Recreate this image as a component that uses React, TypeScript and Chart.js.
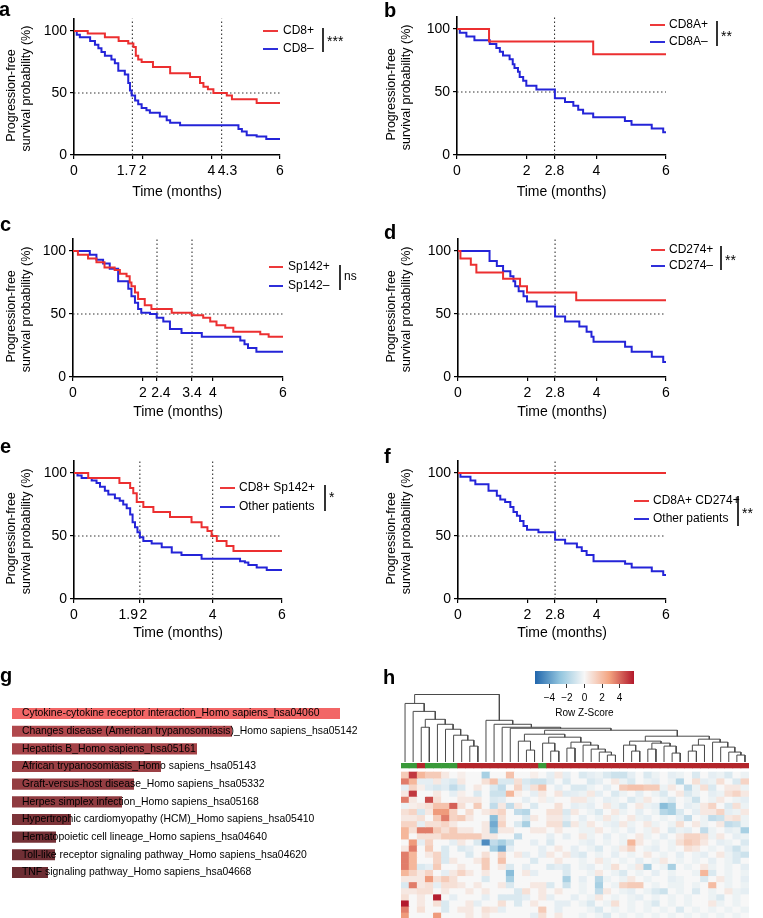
import React, { useEffect, useRef } from 'react';
import { Chart, registerables } from 'chart.js';

Chart.register(...registerables);
const FONT = '"Liberation Sans", Arial, Helvetica, sans-serif';
Chart.defaults.font.family = FONT;
Chart.defaults.color = '#000';

const RED = '#ec2f30';
const BLUE = '#2424d8';

// ---------------- Kaplan-Meier data (time in months, survival %) ----------------
const cd8PosTime = [0, 0.4, 0.9, 1.3, 1.58, 1.73, 1.8, 1.87, 1.97, 2.3, 2.8, 3.38, 3.67, 3.77, 3.9, 4.06, 4.45, 4.6, 5.32, 6];
const cd8PosSurv = [100, 98, 95, 92, 90, 87, 80, 77, 75, 71, 66, 63, 58, 55, 53, 50, 48, 45, 42, 42];
const cd8NegTime = [0, 0.08, 0.17, 0.47, 0.61, 0.71, 0.8, 0.9, 1.09, 1.19, 1.29, 1.48, 1.58, 1.63, 1.68, 1.78, 1.87, 1.97, 2.11, 2.21, 2.5, 2.7, 2.8, 3.09, 4.79, 4.89, 5.03, 5.32, 5.6, 6];
const cd8NegSurv = [100, 97, 95, 92, 89, 86, 83, 80, 77, 74, 68, 65, 58, 52, 48, 44, 41, 38, 36, 34, 31, 28, 26, 24, 21, 19, 16, 15, 13, 13];

const cd8aPosTime = [0, 0.92, 3.91, 6];
const cd8aPosSurv = [100, 90, 80, 80];
const cd8aNegTime = [0, 0.08, 0.27, 0.5, 0.94, 1.13, 1.23, 1.32, 1.51, 1.6, 1.65, 1.75, 1.8, 1.9, 1.99, 2.28, 2.81, 3.1, 3.34, 3.48, 3.62, 3.91, 4.82, 5.01, 5.59, 5.92, 6];
const cd8aNegSurv = [100, 97, 94, 91, 88, 85, 82, 79, 76, 72, 69, 66, 62, 59, 55, 52, 45, 42, 39, 36, 33, 30, 27, 24, 21, 18, 18];

const sp142PosTime = [0, 0.14, 0.43, 0.67, 0.9, 1.19, 1.34, 1.53, 1.62, 1.67, 1.77, 1.86, 2.05, 2.24, 2.82, 3.39, 3.72, 3.92, 4.1, 4.35, 4.58, 5.35, 5.59, 6];
const sp142PosSurv = [100, 97, 94, 91, 87, 85, 82, 80, 75, 72, 67, 62, 57, 54, 51, 49, 47, 44, 41, 39, 36, 34, 32, 32];
const sp142NegTime = [0, 0.48, 0.67, 0.86, 1.05, 1.29, 1.58, 1.67, 1.77, 1.86, 1.95, 2.2, 2.39, 2.58, 2.77, 3.1, 3.68, 4.78, 4.9, 5.0, 5.24, 6];
const sp142NegSurv = [100, 97, 93, 90, 86, 76, 70, 64, 59, 54, 51, 50, 47, 44, 38, 35, 32, 29, 26, 23, 20, 20];

const cd274PosTime = [0, 0.07, 0.37, 0.53, 1.3, 1.79, 1.99, 3.41, 6];
const cd274PosSurv = [100, 94, 89, 83, 78, 72, 67, 61, 61];
const cd274NegTime = [0, 0.91, 1.12, 1.3, 1.51, 1.6, 1.65, 1.75, 1.89, 1.99, 2.27, 2.8, 3.09, 3.5, 3.71, 3.85, 3.91, 4.82, 5.01, 5.59, 5.92, 6];
const cd274NegSurv = [100, 92, 88, 84, 80, 76, 72, 68, 64, 60, 56, 48, 44, 40, 36, 32, 28, 24, 20, 16, 12, 12];

const cd8Sp142Time = [0, 0.41, 1.31, 1.62, 1.71, 1.81, 2.0, 2.29, 2.77, 3.39, 3.68, 3.85, 3.97, 4.12, 4.4, 4.6, 6];
const cd8Sp142Surv = [100, 96, 92, 88, 84, 77, 73, 69, 65, 61, 57, 54, 50, 46, 42, 38, 38];
const otherETime = [0, 0.1, 0.22, 0.51, 0.65, 0.75, 0.89, 0.99, 1.18, 1.32, 1.42, 1.52, 1.62, 1.69, 1.76, 1.83, 1.9, 2.0, 2.24, 2.53, 2.82, 3.1, 3.68, 4.79, 4.93, 5.03, 5.27, 5.56, 6];
const otherESurv = [100, 98, 96, 94, 92, 89, 86, 83, 80, 78, 75, 72, 67, 61, 57, 53, 49, 46, 44, 41, 37, 35, 32, 30, 29, 27, 25, 23, 23];

const cd8aCd274Time = [0, 6];
const cd8aCd274Surv = [100, 100];
const otherFTime = [0, 0.07, 0.36, 0.5, 0.88, 1.12, 1.22, 1.36, 1.51, 1.6, 1.7, 1.79, 1.89, 1.99, 2.32, 2.8, 3.09, 3.43, 3.57, 3.71, 3.91, 4.82, 5.01, 5.59, 5.92, 6];
const otherFSurv = [100, 97, 94, 91, 86, 82, 79, 77, 73, 69, 66, 62, 58, 55, 53, 47, 44, 41, 38, 35, 30, 28, 25, 22, 19, 19];

const aTicks = [0, 1.7, 2, 4, 4.3, 6];
const bTicks = [0, 2, 2.8, 4, 6];
const cTicks = [0, 2, 2.4, 3.4, 4, 6];
const dTicks = [0, 2, 2.8, 4, 6];
const eTicks = [0, 1.9, 2, 4, 6];
const fTicks = [0, 2, 2.8, 4, 6];
const aMedians = [1.7, 4.3];
const bMedians = [2.8];
const cMedians = [2.4, 3.4];
const dMedians = [2.8];
const eMedians = [1.9, 4];
const fMedians = [2.8];
const yTicksKM = [0, 50, 100];

// ---------------- KEGG pathway bar data ----------------
const pathwayNames = [
  'Cytokine-cytokine receptor interaction_Homo sapiens_hsa04060',
  'Changes disease (American trypanosomiasis)_Homo sapiens_hsa05142',
  'Hepatitis B_Homo sapiens_hsa05161',
  'African trypanosomiasis_Homo sapiens_hsa05143',
  'Graft-versus-host disease_Homo sapiens_hsa05332',
  'Herpes simplex infection_Homo sapiens_hsa05168',
  'Hypertrophic cardiomyopathy (HCM)_Homo sapiens_hsa05410',
  'Hematopoietic cell lineage_Homo sapiens_hsa04640',
  'Toll-like receptor signaling pathway_Homo sapiens_hsa04620',
  'TNF signaling pathway_Homo sapiens_hsa04668',
];
const pathwayScores = [32.8, 22.0, 18.5, 14.9, 12.2, 11.0, 5.9, 4.4, 4.3, 3.6];
const pathwayColors = ['#f26666', '#b0484d', '#a54348', '#9c4045', '#943d42', '#8f3b40', '#7d3439', '#743036', '#702f35', '#6c2d33'];

// ---------------- Heatmap data ----------------
const sampleIds = Array.from({ length: 43 }, (_, i) => 'S' + (i + 1));
const sampleGroup = [1, 1, 0, 1, 1, 1, 1, 0, 0, 0, 0, 0, 0, 0, 0, 0, 0, 1, 0, 0, 0, 0, 0, 0, 0, 0, 0, 0, 0, 0, 0, 0, 0, 0, 0, 0, 0, 0, 0, 0, 0, 0, 0];
const groupColors = ['#b3262b', '#3a9a3a'];
const keyTicks = [-4, -2, 0, 2, 4];
const keyRange = [-5.65, 5.65];

const leftClade = [59, 0, [51, 1, [43, [35, 2, 3], [38, 4, [33, 5, [27, 6, [22, 7, [16, 8, 9]]]]]]]];
const cladeM = [28, [21, 14, [12, 15, 16]], [25, [19, 17, [11, 18, 19]], [20, [14, 20, 21], [17, 22, [13, 23, [10, 24, [7, 25, 26]]]]]]];
const cladeN = [26, [21, [17, 27, [11, 28, 29]], [19, [13, 30, 31], [16, 32, [9, 33, 34]]]], [23, [17, [11, 35, 36], 37], [20, 38, [15, 39, [10, 40, [7, 41, 42]]]]]];
const rightClade = [42, 10, [38, 11, [35, 12, [34, 13, [32, cladeM, cladeN]]]]];
const rootHeight = 68;

const heatmapRows = [
  [1.5, 5.0, 2.2, 1.5, 1.5, 0.5, 0, 0.3, 0, 0, -2.2, 0, 0, 1.8, 0, 0, 0.3, 0, -0.5, 0.5, -0.5, 0, -0.8, -0.5, -0.3, -0.8, -1.2, -1.2, -0.5, 0, -0.8, -0.3, 0, -0.5, -0.3, 0, -0.8, 0, -0.5, -0.3, -0.8, 0, -0.3],
  [3.6, 2.2, -0.5, -0.5, 0.5, -0.5, -0.8, 0.5, 0, 0, 0.8, 1.8, -0.8, -0.8, 0.8, -0.8, -1.2, -1.2, -0.6, 0, -0.8, 0, 0, -0.8, -0.5, 0, 0.5, -0.3, -0.8, 0, -0.3, -0.5, 0, -0.3, -1.8, 0, 0.8, -0.5, -0.3, 0.8, 0, -0.8, 1.2],
  [-0.5, 1.2, 0.3, -0.6, -0.9, -0.6, -1.5, -0.8, 0, 0.5, 0, -0.8, -1.5, 0, 1.2, -0.5, 0.8, 1.8, 0, -0.5, 0, -0.8, -0.8, -0.3, 0, -0.5, 0, 1.5, 1.8, 1.8, 1.5, 1.5, -0.3, 0.5, 0, -1.5, -0.3, 0.8, -0.8, 0, 0.5, 0.5, -0.3],
  [0.5, 5.0, 0, 0, 0.5, 0, -0.5, 0.3, 0, -0.8, 0, -1.2, -1.2, 2.2, 0.3, 0, -0.5, 0.5, 0, 0.6, -0.6, -0.5, -0.3, 0.5, -0.5, 0, -0.8, -0.3, 0, -0.5, 0, -0.3, -0.8, 0, 0.5, -0.8, -0.3, 0, -0.5, -0.3, 0.8, 1.2, 0.5],
  [3.6, 0.5, 0, 4.6, 0.8, 0, 0, 0.5, 0.5, 0.5, 0, -0.8, -0.6, 0, 0, -0.5, 0, 0.3, -0.3, 0, 0, 0.5, 0.5, -0.3, 0, -0.5, -0.3, 0, -0.8, -0.3, 0.5, 0, -0.3, -0.8, 0, -0.3, -1.2, 0, -0.3, 0.5, 0, -0.3, -0.5],
  [-0.3, 0.3, 0.5, 0.8, 1.8, 1.8, 4.2, 0.8, 0, 1.5, 0, -1.5, 0.5, -1.5, 0.5, 0, -0.8, 0, 0, 0.8, 0, -0.5, -0.3, -0.5, 0, 0.5, -0.3, -0.8, 0, 0.5, -0.3, -0.5, -3.0, -2.2, 0, -0.5, -0.3, 0.5, 1.2, 0, -0.8, 0.8, -0.3],
  [0.8, 1.2, -0.9, 0.5, 3.0, 3.0, 1.2, 0, 0.9, 0, 0.5, 0.8, 1.2, 0, -1.5, -1.8, 0, 0, 0.8, 0.8, -0.8, 0.5, 0, -0.3, -0.8, 0, 0.5, -0.3, 0, -0.5, 0, -0.3, -1.8, -2.2, -0.8, 0, -0.5, 0.5, 0.5, 1.2, -0.5, -0.3, 0.5],
  [0.5, 0.5, 0.8, 0, 1.5, 3.6, 1.2, 1.5, 0.5, 0, 0, -3.0, 0.8, 0, 0, -0.8, 0.5, 0, 0.5, 0.5, -0.5, 0, -0.5, 0, -0.3, 0.5, -0.3, 0, 0.5, -0.3, -0.5, 0, -0.3, 0, -0.5, -1.5, 0, -0.3, -1.5, -1.2, 0.5, 0.8, -0.3],
  [1.2, 1.2, -0.5, 0.8, 0.8, 1.2, 0.5, 0, 0, 0, 0.5, -3.6, 1.2, 0, -0.8, -2.2, 0, 0, 0.8, 0.8, -1.2, 0.5, -0.3, 0.5, 0, -0.3, -0.5, 0.5, -0.3, 0, 0.5, -0.3, 0, -0.3, 0.8, 0, 0.5, -0.3, 0, 0.5, -1.5, -1.2, -0.3],
  [2.2, 0.8, 3.6, 3.6, 1.5, 0.8, 1.5, 0.5, 0.5, 0, 0.5, -3.0, 0.5, 0.5, 0, 0, 0.5, 0.5, 0, 0.5, 0, 0, -0.3, -0.3, 0.5, 0, -0.3, 0, -0.5, 0, -0.3, 0.5, 0, -0.8, -0.3, -0.5, 0, -1.5, -0.3, 0, -0.5, -0.3, -2.2],
  [2.2, 0, 0.8, 0.8, 0.8, 1.5, 1.5, 1.5, 1.5, 1.5, 0.5, 0.5, 0, 0, -1.5, 0, 0, 0, -0.5, 0, -0.5, 0, 0.5, -0.3, 0, -0.5, 0, -0.3, 0, 0.5, -0.3, 0, -0.5, 0, 0.5, 1.2, 1.2, 0.8, -0.3, 0.5, 0, -0.5, -0.3],
  [0, 3.0, -0.5, 1.2, 0, 0, -0.5, 0.5, 0, -0.8, -4.5, -1.5, -2.2, -1.2, 0, 0, -0.5, 0, -0.8, 0, 0, 0, -0.3, -0.5, 0, -0.3, 0, -0.3, 2.2, 0.5, 0, -0.3, 0, -0.3, 0.8, 1.5, 1.2, 0.5, 0, -0.5, -0.3, 0, -0.8],
  [0.5, 3.6, 0, 1.5, 0, -0.8, 0, -0.8, -0.5, 0, 0, -2.2, -3.6, -0.5, 0, 0, 0, -0.5, 0, 0.5, 0, -0.5, 0, -0.3, -0.8, 0, -0.3, 0.5, 1.2, 0, -0.3, -0.5, 0, -0.3, 0, 0.8, 0.5, 0, -0.3, 0, -0.5, -1.2, -0.3],
  [3.6, 2.2, 0, 0.5, 1.2, -0.8, 0, 0, -0.8, 0, 0.8, 0, 1.2, 0, 0.5, -0.5, 0, -0.5, 0.5, 0, 0.5, -0.5, -0.8, 0, -0.3, 0, -0.5, 0, -0.3, 0, 0.5, 0, -0.3, 0, -0.5, 0, -0.3, -0.5, 0, 0.5, -0.3, -0.8, -1.2],
  [3.6, 2.2, 0, 0, 1.2, -0.8, 0.5, 0, 0, 0.5, 1.5, 0, 1.8, 0, 0, 0, -0.8, 0, 0, 0.5, 0, 0, -0.3, 0, 0.5, -0.3, 0, -0.3, 0, -0.5, 0, -0.3, 0.5, 0, -0.3, 0, -0.3, 0, -0.5, 0, -0.3, -0.8, 0],
  [3.6, 2.2, -0.8, -0.5, 1.5, 0, 0, 0.5, 0, 0, 1.5, 0, 0.5, -0.8, 0, -0.5, 0, 0, -0.8, -0.5, -0.8, 0, -0.3, -0.5, 0, -0.3, 0.8, 0, -0.3, 0.5, -2.2, 0, -0.3, -2.2, 0, -0.3, 0, 0.5, -0.3, 0, -0.3, 0, -0.5],
  [2.2, 1.2, 0.5, 1.2, 0, -0.5, 0.5, 1.2, 0.5, 0, 0.5, 0, 0, -3.0, 0, 0.5, -0.5, 0, 0, 0, -0.8, 0, 0, -0.3, 0.5, 0, -0.3, -0.8, 0, -0.3, 0, -0.5, 0, -0.3, 0, 0, -0.3, 2.2, -0.8, 0, -0.3, 0, -0.3],
  [0.5, 0.5, 0.5, 3.0, 0.8, 1.5, 0.8, 0, 0, 0, -0.8, 0, 0, -2.2, 0, 0, 0, 0, 0, 0, -2.2, 0, -0.5, 0, -1.8, -0.3, 0, -0.3, 0.5, 0, -0.3, 0, 0, -0.5, -0.3, 0, 0, -0.8, 0, 0.5, -0.3, 0, -0.5],
  [-0.8, 3.6, 0.5, 0.8, -0.5, 0.8, 0.8, 0.5, 0, 0.5, 0, 0, 0.5, -0.8, 0, 0, 0.5, 0.5, -0.8, 0, -1.2, 0, -0.3, 0, -2.2, 0, -0.3, 1.2, 1.5, 1.5, 0, -0.3, 0, -0.3, -0.3, 0, -0.3, 0, 2.0, 0, -0.3, 0, -0.3],
  [0.5, 0.5, 0.8, 0.8, 0, 0.5, 0, 0, 0.5, 0, 0.5, 0, 0, 0, -0.8, 0.8, 0, 0.5, 0, 0.5, 0, 0, -0.3, 0, -1.5, 0.5, 0, -0.3, -0.5, 0, -0.3, -0.8, -1.2, 0, -0.3, 0, -0.8, 0, -0.3, 0, 0.5, -0.3, -0.5],
  [0.8, 0, 0.5, 0, 5.5, 0, -0.5, 0, 0, 0, -0.5, 0, -0.8, -0.8, -0.8, -0.5, 0, 0.5, -0.5, 0, 0, -0.5, 0, -0.3, 0.5, 0, -0.3, 0, -0.3, -0.5, 0, -0.3, 0, -0.3, 0, -0.3, 0, 0, -0.3, -0.8, 0, -0.3, 0],
  [5.6, 0, 0.5, 0, 0.8, -0.8, 0, 0, 0.5, -0.5, 0, 0, 0.8, 0, -0.8, 0, 0.5, 0, 0, -0.5, -0.5, 0, -0.3, -0.8, 0, -0.3, 0.8, 0, -0.3, 0, -0.3, -0.8, 0, -0.3, 0, -0.3, 0, 0, 0.5, -0.3, 0, -0.3, 0],
  [3.6, 0, 0.8, 0, 0, -0.8, 0, 0.5, 0.5, 0, 0.8, 0.5, -0.5, 0, 0, 0, 0, 1.5, 0, -0.5, 0, 0, 0, -0.3, -0.8, 0, -0.3, 0, -0.3, 0, -0.3, 0, -0.3, 0, -0.8, 0, -0.3, 0, -0.3, 0, -0.3, 0, -0.3],
  [3.0, 0, 0, 0, 3.0, 0, 0, 0, 0.5, 0, 0.5, 0, 0, 0, 0, 0, -0.5, 0.8, 0, 0.5, 0, 0, -0.3, 0, -0.3, -0.8, 0, -0.3, 0, -0.3, 0, -0.3, 0, -0.3, 0, -0.3, 0, -0.3, 0, -0.3, 0, -0.3, 0],
];

// ---------------- helpers ----------------
const zStops: [number, number[]][] = [
  [-5.65, [33, 102, 172]],
  [-2.8, [146, 197, 222]],
  [0, [247, 247, 247]],
  [2.8, [244, 165, 130]],
  [5.65, [178, 24, 43]],
];
function zColor(v: number) {
  const z = Math.max(zStops[0][0], Math.min(zStops[zStops.length - 1][0], v));
  for (let i = 0; i < zStops.length - 1; i++) {
    const [a, ca] = zStops[i];
    const [b, cb] = zStops[i + 1];
    if (z >= a && z <= b) {
      const t = (z - a) / (b - a);
      const c = ca.map((x, k) => Math.round(x + (cb[k] - x) * t));
      return `rgb(${c[0]},${c[1]},${c[2]})`;
    }
  }
  return 'rgb(247,247,247)';
}

function stepPoints(t: number[], s: number[]) {
  return t.map((x, i) => ({ x, y: s[i] }));
}

const kmOverlay = {
  id: 'kmOverlay',
  afterDraw(chart: any, _a: any, o: any) {
    if (!o || !o.items) return;
    const ctx = chart.ctx;
    ctx.save();
    o.items.forEach((it: any, i: number) => {
      const y = o.rowY[i];
      ctx.strokeStyle = it.color;
      ctx.lineWidth = 1.9;
      ctx.beginPath();
      ctx.moveTo(o.lineX, y);
      ctx.lineTo(o.lineX + o.lineLen, y);
      ctx.stroke();
      ctx.fillStyle = '#000';
      ctx.font = `12px ${FONT}`;
      ctx.textBaseline = 'middle';
      ctx.textAlign = 'left';
      ctx.fillText(it.label, o.textX, y);
    });
    ctx.strokeStyle = '#000';
    ctx.lineWidth = 1.6;
    ctx.beginPath();
    ctx.moveTo(o.barX, o.barTop);
    ctx.lineTo(o.barX, o.barBottom);
    ctx.stroke();
    ctx.fillStyle = '#000';
    ctx.font = `${o.sigSize}px ${FONT}`;
    ctx.textBaseline = 'middle';
    ctx.textAlign = 'left';
    ctx.fillText(o.sig, o.barX + 4, o.sigY);
    ctx.restore();
  },
};

const barLabels = {
  id: 'barLabels',
  afterDatasetsDraw(chart: any) {
    const ctx = chart.ctx;
    const meta = chart.getDatasetMeta(0);
    ctx.save();
    ctx.fillStyle = '#000';
    ctx.font = `10.4px ${FONT}`;
    ctx.textBaseline = 'middle';
    ctx.textAlign = 'left';
    meta.data.forEach((el: any, i: number) => {
      ctx.fillText(chart.data.labels[i], chart.chartArea.left + 10, el.y);
    });
    ctx.restore();
  },
};

// ---------------- panel layouts ----------------
const KM_PANELS: any[] = [
  {
    left: 0, top: 0, w: 380, h: 215, plotLeft: 74, plotRight: 280, y100: 31, y0: 155, titleY: 192,
    series: [{ label: 'CD8+', t: cd8PosTime, s: cd8PosSurv, color: RED }, { label: 'CD8–', t: cd8NegTime, s: cd8NegSurv, color: BLUE }],
    medians: aMedians, ticks: aTicks, nudge: { 1: -3, 4: 3 },
    legend: { lineX: 263, lineLen: 15, textX: 283, rowY: [31, 49], barX: 323, barTop: 28, barBottom: 52, sig: '***', sigY: 42, sigSize: 14 },
  },
  {
    left: 380, top: 0, w: 383, h: 215, plotLeft: 77, plotRight: 286, y100: 29, y0: 155, titleY: 192,
    series: [{ label: 'CD8A+', t: cd8aPosTime, s: cd8aPosSurv, color: RED }, { label: 'CD8A–', t: cd8aNegTime, s: cd8aNegSurv, color: BLUE }],
    medians: bMedians, ticks: bTicks, nudge: {},
    legend: { lineX: 270, lineLen: 15, textX: 289, rowY: [25, 42], barX: 337, barTop: 21, barBottom: 46, sig: '**', sigY: 37, sigSize: 14 },
  },
  {
    left: 0, top: 210, w: 380, h: 222, plotLeft: 73, plotRight: 283, y100: 41, y0: 167, titleY: 202,
    series: [{ label: 'Sp142+', t: sp142PosTime, s: sp142PosSurv, color: RED }, { label: 'Sp142–', t: sp142NegTime, s: sp142NegSurv, color: BLUE }],
    medians: cMedians, ticks: cTicks, nudge: { 2: 2 },
    legend: { lineX: 269, lineLen: 14, textX: 288, rowY: [57, 76], barX: 340, barTop: 55, barBottom: 80, sig: 'ns', sigY: 67, sigSize: 12 },
  },
  {
    left: 380, top: 210, w: 383, h: 222, plotLeft: 78, plotRight: 286, y100: 41, y0: 167, titleY: 202,
    series: [{ label: 'CD274+', t: cd274PosTime, s: cd274PosSurv, color: RED }, { label: 'CD274–', t: cd274NegTime, s: cd274NegSurv, color: BLUE }],
    medians: dMedians, ticks: dTicks, nudge: {},
    legend: { lineX: 271, lineLen: 14, textX: 289, rowY: [40, 56], barX: 341, barTop: 36, barBottom: 60, sig: '**', sigY: 51, sigSize: 14 },
  },
  {
    left: 0, top: 420, w: 380, h: 225, plotLeft: 74, plotRight: 282, y100: 53, y0: 179, titleY: 213,
    series: [{ label: 'CD8+ Sp142+', t: cd8Sp142Time, s: cd8Sp142Surv, color: RED }, { label: 'Other patients', t: otherETime, s: otherESurv, color: BLUE }],
    medians: eMedians, ticks: eTicks, nudge: { 1: -6 },
    legend: { lineX: 220, lineLen: 15, textX: 239, rowY: [68, 87], barX: 325, barTop: 65, barBottom: 91, sig: '*', sigY: 78, sigSize: 14 },
  },
  {
    left: 380, top: 420, w: 383, h: 225, plotLeft: 78, plotRight: 286, y100: 53, y0: 179, titleY: 213,
    series: [{ label: 'CD8A+ CD274+', t: cd8aCd274Time, s: cd8aCd274Surv, color: RED }, { label: 'Other patients', t: otherFTime, s: otherFSurv, color: BLUE }],
    medians: fMedians, ticks: fTicks, nudge: {},
    legend: { lineX: 254, lineLen: 15, textX: 273, rowY: [81, 99], barX: 358, barTop: 76, barBottom: 106, sig: '**', sigY: 94, sigSize: 14 },
  },
];

function kmConfig(p: any) {
  const yMax = 110;
  const chartTop = p.y0 - (yMax / 100) * (p.y0 - p.y100);
  const tickFont = 14;
  const titleOffset = (tickFont * 1.2) / 2 + 4;
  const xBottom = p.titleY + titleOffset;
  const dotted = { borderColor: '#333', borderWidth: 1.1, borderDash: [1.5, 2.5], pointRadius: 0, fill: false };
  const datasets: any[] = [
    ...p.series.map((s: any) => ({
      label: s.label, data: stepPoints(s.t, s.s), stepped: true, borderColor: s.color, borderWidth: 2, pointRadius: 0, fill: false,
    })),
    ...p.medians.map((m: number) => ({ ...dotted, data: [{ x: m, y: 0 }, { x: m, y: yMax }] })),
    { ...dotted, data: [{ x: 0, y: 50 }, { x: 6, y: 50 }] },
  ];
  return {
    type: 'line',
    data: { datasets },
    options: {
      animation: false,
      responsive: false,
      events: [],
      layout: { padding: { left: 0, top: chartTop, right: p.w - p.plotRight, bottom: p.h - xBottom } },
      plugins: {
        legend: { display: false },
        tooltip: { enabled: false },
        kmOverlay: { ...p.legend, items: p.series.map((s: any) => ({ label: s.label, color: s.color })) },
      },
      scales: {
        x: {
          type: 'linear', min: 0, max: 6,
          afterFit: (s: any) => { s.height = xBottom - p.y0; },
          afterBuildTicks: (s: any) => { s.ticks = p.ticks.map((v: number) => ({ value: v })); },
          ticks: {
            font: { size: tickFont }, autoSkip: false, maxRotation: 0, padding: 4,
            callback: (_v: any, i: number) => {
              const lab = String(p.ticks[i]);
              const n = p.nudge[i] || 0;
              const sp = ' '.repeat(Math.abs(n));
              return n < 0 ? lab + sp : sp + lab;
            },
          },
          grid: { display: true, drawOnChartArea: false, drawTicks: true, tickLength: 4, color: '#000', lineWidth: 1.2 },
          border: { display: true, color: '#000', width: 1.6 },
          title: { display: true, text: 'Time (months)', font: { size: tickFont }, padding: { top: 4, bottom: 4 } },
        },
        y: {
          type: 'linear', min: 0, max: yMax,
          afterFit: (s: any) => { s.width = p.plotLeft; },
          afterBuildTicks: (s: any) => { s.ticks = yTicksKM.map((v) => ({ value: v })); },
          ticks: { font: { size: tickFont }, padding: 3 },
          grid: { display: true, drawOnChartArea: false, drawTicks: true, tickLength: 4, color: '#000', lineWidth: 1.2 },
          border: { display: true, color: '#000', width: 1.6 },
          title: {
            display: true, text: ['Progression-free     ', 'survival probability (%) '], font: { size: 12.5 },
            padding: { top: 4, bottom: 4 },
          },
        },
      },
    },
    plugins: [kmOverlay],
  };
}

function barConfig() {
  return {
    type: 'bar',
    data: {
      labels: pathwayNames,
      datasets: [{ data: pathwayScores, backgroundColor: pathwayColors, barPercentage: 0.63, categoryPercentage: 1, borderWidth: 0 }],
    },
    options: {
      animation: false, responsive: false, events: [], indexAxis: 'y',
      layout: { padding: { left: 12, right: 8, top: 64.7, bottom: 36.7 } },
      scales: { x: { display: false, min: 0, max: 36 }, y: { display: false } },
      plugins: { legend: { display: false }, tooltip: { enabled: false } },
    },
    plugins: [barLabels],
  };
}

function dendroConfig() {
  const segs: any[] = [];
  const walk = (node: any): { x: number; h: number } => {
    if (typeof node === 'number') return { x: node, h: 0 };
    const [h, l, r] = node;
    const a = walk(l);
    const b = walk(r);
    segs.push({ x: a.x, y: a.h }, { x: a.x, y: h }, { x: b.x, y: h }, { x: b.x, y: b.h }, { x: b.x, y: null });
    return { x: (a.x + b.x) / 2, h };
  };
  walk([rootHeight, leftClade, rightClade]);
  return {
    type: 'line',
    data: { datasets: [{ data: segs, borderColor: '#4a4a4a', borderWidth: 1, pointRadius: 0, spanGaps: false, clip: false, fill: false }] },
    options: {
      animation: false, responsive: false, events: [],
      layout: { padding: { left: 21, right: 14, top: 9.5, bottom: 3 } },
      scales: {
        x: { type: 'linear', display: false, min: -0.5, max: sampleIds.length - 0.5 },
        y: { type: 'linear', display: false, min: 0, max: rootHeight },
      },
      plugins: { legend: { display: false }, tooltip: { enabled: false } },
    },
  };
}

function heatConfig() {
  const yMin = -1.475;
  const yMax = 23.93;
  const common = { grouped: false, barPercentage: 1, categoryPercentage: 1, borderWidth: 0 };
  const datasets: any[] = [
    { ...common, data: sampleIds.map(() => [yMin, -0.66]), backgroundColor: sampleGroup.map((g) => groupColors[g]) },
    ...heatmapRows.map((row, r) => ({ ...common, data: row.map(() => [r, r + 1]), backgroundColor: row.map(zColor) })),
  ];
  return {
    type: 'bar',
    data: { labels: sampleIds, datasets },
    options: {
      animation: false, responsive: false, events: [],
      layout: { padding: { left: 21, right: 14, top: 3, bottom: 0 } },
      scales: {
        x: { display: false },
        y: { display: false, type: 'linear', min: yMin, max: yMax, reverse: true },
      },
      plugins: { legend: { display: false }, tooltip: { enabled: false } },
    },
  };
}

function keyConfig() {
  const [kMin, kMax] = keyRange;
  return {
    type: 'bar',
    data: {
      labels: [''],
      datasets: [{
        data: [[kMin, kMax]], barPercentage: 1, categoryPercentage: 1, borderWidth: 0,
        backgroundColor: (c: any) => {
          const area = c.chart.chartArea;
          if (!area) return '#ccc';
          const g = c.chart.ctx.createLinearGradient(area.left, 0, area.right, 0);
          for (let i = 0; i <= 20; i++) {
            const v = kMin + ((kMax - kMin) * i) / 20;
            g.addColorStop(i / 20, zColor(v));
          }
          return g;
        },
      }],
    },
    options: {
      animation: false, responsive: false, events: [], indexAxis: 'y',
      layout: { padding: { left: 15, right: 16, top: 9, bottom: 3 } },
      scales: {
        y: { display: false },
        x: {
          type: 'linear', min: kMin, max: kMax,
          afterFit: (s: any) => { s.height = 39; },
          afterBuildTicks: (s: any) => { s.ticks = keyTicks.map((v) => ({ value: v })); },
          ticks: { font: { size: 10 }, padding: 4, autoSkip: false, maxRotation: 0, callback: (v: any) => (v < 0 ? '\u2212' + Math.abs(v) : String(v)) },
          grid: { display: true, drawOnChartArea: false, drawTicks: true, tickLength: 4, color: '#333', lineWidth: 1 },
          border: { display: false },
          title: { display: true, text: 'Row Z-Score', font: { size: 10 }, padding: { top: 2, bottom: 4 } },
        },
      },
      plugins: { legend: { display: false }, tooltip: { enabled: false } },
    },
  };
}

function ChartCanvas({ left, top, width, height, make }: any) {
  const ref = useRef<HTMLCanvasElement | null>(null);
  useEffect(() => {
    const chart = new Chart(ref.current as any, make() as any);
    return () => chart.destroy();
  }, []);
  return <canvas ref={ref} width={width} height={height} style={{ position: 'absolute', left, top, width, height }} />;
}

const LETTERS = [
  { t: 'a', x: -1, b: 15 }, { t: 'b', x: 384, b: 16 },
  { t: 'c', x: 0, b: 230 }, { t: 'd', x: 384, b: 238 },
  { t: 'e', x: 0, b: 452 }, { t: 'f', x: 384, b: 462 },
  { t: 'g', x: 0, b: 681 }, { t: 'h', x: 383, b: 683 },
];

export default function App() {
  return (
    <div style={{ position: 'absolute', left: 0, top: 0, width: 763, height: 918, overflow: 'hidden', background: '#fff', fontFamily: FONT }}>
      {KM_PANELS.map((p, i) => (
        <ChartCanvas key={'km' + i} left={p.left} top={p.top} width={p.w} height={p.h} make={() => kmConfig(p)} />
      ))}
      <ChartCanvas left={0} top={640} width={380} height={278} make={barConfig} />
      <ChartCanvas left={380} top={685} width={383} height={80} make={dendroConfig} />
      <ChartCanvas left={380} top={760} width={383} height={158} make={heatConfig} />
      <ChartCanvas left={520} top={662} width={130} height={64} make={keyConfig} />
      {LETTERS.map((l) => (
        <div key={l.t} style={{ position: 'absolute', left: l.x, top: l.b - 15.8, fontSize: 20, lineHeight: '20px', fontWeight: 'bold', color: '#000' }}>{l.t}</div>
      ))}
    </div>
  );
}
